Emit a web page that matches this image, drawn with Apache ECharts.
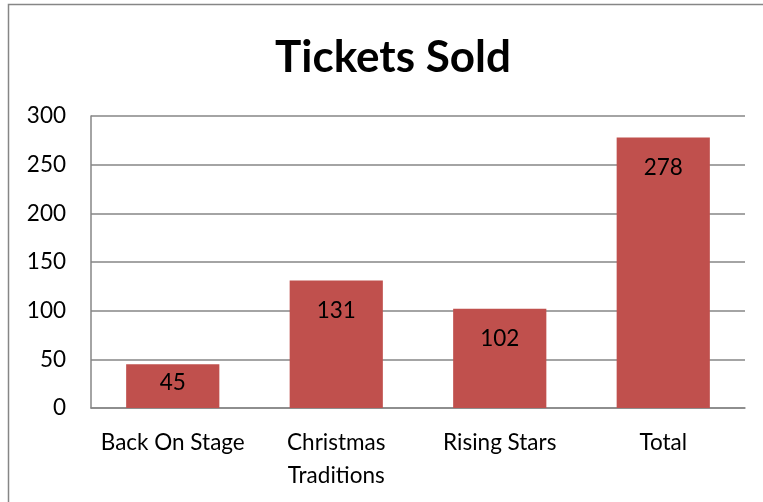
<!DOCTYPE html>
<html><head><meta charset="utf-8">
<script src="https://cdn.jsdelivr.net/npm/echarts@6/dist/echarts.min.js"></script>
<style>html,body{margin:0;padding:0;background:#fff}#c{width:763px;height:502px}</style>
</head><body><div id="c"></div>
<script>
const categories = ["Back On Stage", "Christmas\nTraditions", "Rising Stars", "Total"];
const ticketsSold = [45, 131, 102, 278];
const yTicks = [0, 50, 100, 150, 200, 250, 300];

const chart = echarts.init(document.getElementById('c'), null, {renderer: 'canvas'});
const font = 'Lato, "Open Sans", sans-serif';
const barData = ticketsSold.map(v => ({
  value: v,
  label: {distance: v < 60 ? 7 : 19}
}));
chart.setOption({
  animation: false,
  backgroundColor: '#fff',
  title: {
    text: 'Tickets Sold', left: 388, top: 31, textAlign: 'center',
    textStyle: {fontFamily: font, fontSize: 44, fontWeight: 'bold', color: '#000'}
  },
  graphic: [{
    type: 'rect', shape: {x: 8.5, y: 4.5, width: 800, height: 600},
    style: {fill: 'none', stroke: '#868686', lineWidth: 1.5}, silent: true
  }],
  grid: {left: 91, top: 116, right: 18, bottom: 94},
  xAxis: {
    type: 'category', data: categories,
    axisLine: {lineStyle: {color: '#868686', width: 1.5}},
    axisTick: {show: false},
    axisLabel: {interval: 0, fontFamily: font, fontSize: 22.5, color: '#000', margin: 18, lineHeight: 33}
  },
  yAxis: {
    type: 'value', min: yTicks[0], max: yTicks[yTicks.length - 1], interval: 50,
    axisLine: {show: true, lineStyle: {color: '#868686', width: 1.5}},
    axisTick: {show: false},
    splitLine: {lineStyle: {color: '#868686', width: 1.5}},
    axisLabel: {fontFamily: font, fontSize: 22.5, color: '#000', margin: 25}
  },
  series: [{
    type: 'bar', data: barData, barWidth: '57%',
    itemStyle: {color: '#C0504D'},
    label: {show: true, position: 'insideTop', distance: 19, fontFamily: font, fontSize: 22.5, color: '#000'}
  }]
});
</script></body></html>
